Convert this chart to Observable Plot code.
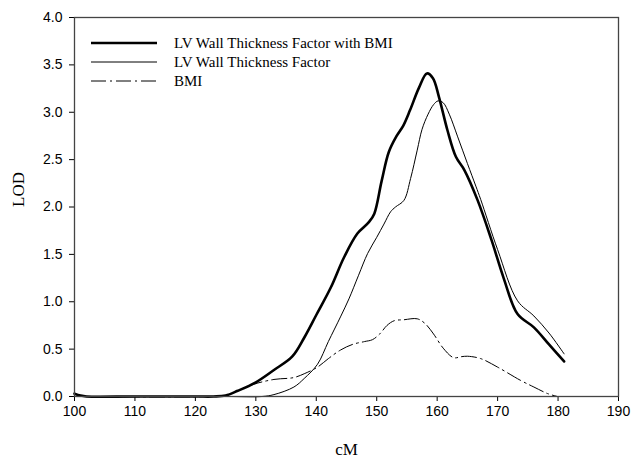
<!DOCTYPE html>
<html><head><meta charset="utf-8">
<script src="https://cdn.jsdelivr.net/npm/d3@7"></script>
<script src="https://cdn.jsdelivr.net/npm/@observablehq/plot@0.6"></script>
<style>
body{margin:0;background:#fff}
#wrap{position:relative;width:632px;height:459px}
#legend{position:absolute;left:0;top:0;pointer-events:none}
</style>
</head><body><div id="wrap"></div>
<script>
// Series: LV Wall Thickness Factor with BMI (thick)
const cM_withBMI = [100, 101, 102, 110, 120, 123, 125, 127, 130, 133, 136, 138, 140, 142.4, 144.6, 146.8, 148.7, 149.6, 150.8, 152, 153.3, 154.4, 155.5, 157, 158.3, 159.3, 160.3, 161.7, 163.1, 164.5, 166.7, 169, 171, 173.3, 176, 178.5, 181];
const lod_withBMI = [0.03, 0.01, 0, 0, 0, 0, 0.01, 0.06, 0.15, 0.28, 0.42, 0.62, 0.86, 1.15, 1.47, 1.72, 1.84, 1.93, 2.27, 2.58, 2.75, 2.86, 3.02, 3.26, 3.41, 3.36, 3.16, 2.81, 2.53, 2.39, 2.07, 1.65, 1.25, 0.87, 0.73, 0.55, 0.37];

// Series: LV Wall Thickness Factor (thin)
const cM_factor = [100, 125, 131, 133, 136.3, 138, 140.2, 142, 144, 145.4, 147, 148.5, 150, 151.2, 152.3, 153.1, 154.5, 155.6, 156.7, 157.5, 158.5, 159.4, 160.15, 161, 162, 163.4, 165, 166.4, 167.2, 170, 173.3, 176, 178.5, 181];
const lod_factor = [0, 0, 0, 0.02, 0.1, 0.19, 0.34, 0.58, 0.84, 1.03, 1.28, 1.51, 1.68, 1.82, 1.95, 2.0, 2.07, 2.3, 2.6, 2.82, 2.98, 3.08, 3.12, 3.1, 2.98, 2.74, 2.46, 2.22, 2.08, 1.55, 1.01, 0.85, 0.67, 0.45];

// Series: BMI (dash-dot)
const cM_bmi = [100, 123, 125, 127, 129.7, 133, 136.3, 138, 140.2, 142, 144, 146, 148, 149.3, 150.5, 151.7, 152.9, 154.5, 156.7, 158, 159.4, 161, 162.7, 164, 165, 167.2, 170, 173.8, 176, 178.3, 179.9];
const lod_bmi = [0, 0, 0.01, 0.06, 0.13, 0.18, 0.2, 0.24, 0.31, 0.4, 0.49, 0.55, 0.58, 0.6, 0.66, 0.75, 0.8, 0.81, 0.82, 0.77, 0.66, 0.51, 0.41, 0.42, 0.425, 0.40, 0.31, 0.17, 0.1, 0.03, 0];

const seriesNames = ["LV Wall Thickness Factor with BMI", "LV Wall Thickness Factor", "BMI"];
const xTicks = [100, 110, 120, 130, 140, 150, 160, 170, 180, 190];
const yTicks = [0, 0.5, 1, 1.5, 2, 2.5, 3, 3.5, 4];
const xTitle = "cM";
const yTitle = "LOD";

const styles = [
  {strokeWidth: 2.6, dash: null},
  {strokeWidth: 1, dash: null},
  {strokeWidth: 1, dash: "15,4,2,4"}
];

const rows = (xs, ys, s) => xs.map((x, i) => ({cM: x, lod: ys[i], series: s}));
const data = [
  rows(cM_withBMI, lod_withBMI, seriesNames[0]),
  rows(cM_factor, lod_factor, seriesNames[1]),
  rows(cM_bmi, lod_bmi, seriesNames[2])
];

const chart = Plot.plot({
  width: 632, height: 459,
  marginLeft: 74, marginRight: 14, marginTop: 17, marginBottom: 63,
  style: {fontFamily: "'Liberation Sans', Arial, sans-serif", fontSize: "14px", background: "#fff", color: "#000"},
  x: {domain: [100, 190]},
  y: {domain: [0, 4]},
  marks: [
    Plot.axisX({ticks: xTicks, tickSize: 5, tickPadding: 5, label: null, tickFormat: d => String(d), fontSize: 14}),
    Plot.axisY({ticks: yTicks, tickSize: 5, tickPadding: 7, label: null, tickFormat: d3.format(".1f"), fontSize: 14}),
    ...data.map((d, i) => Plot.line(d, {
      x: "cM", y: "lod", stroke: "#000", strokeWidth: styles[i].strokeWidth,
      strokeDasharray: styles[i].dash || undefined, curve: "catmull-rom"
    })),
    Plot.frame({stroke: "#444", strokeWidth: 1.3}),
    Plot.text([xTitle], {frameAnchor: "bottom", dy: 58, fontFamily: "'Liberation Serif', 'Times New Roman', serif", fontSize: 17, fill: "#000"}),
    Plot.text([yTitle], {frameAnchor: "left", dx: -56, rotate: -90, fontFamily: "'Liberation Serif', 'Times New Roman', serif", fontSize: 17, fill: "#000"})
  ]
});

const wrap = document.getElementById("wrap");
wrap.appendChild(chart);

// legend overlay (inside plot area, top-left)
const svgNS = "http://www.w3.org/2000/svg";
const leg = document.createElementNS(svgNS, "svg");
leg.setAttribute("id", "legend");
leg.setAttribute("width", 632);
leg.setAttribute("height", 110);
seriesNames.forEach((name, i) => {
  const y = 43 + i * 19;
  const ln = document.createElementNS(svgNS, "line");
  ln.setAttribute("x1", 91); ln.setAttribute("x2", 157);
  ln.setAttribute("y1", y); ln.setAttribute("y2", y);
  ln.setAttribute("stroke", "#000");
  ln.setAttribute("stroke-width", styles[i].strokeWidth);
  if (styles[i].dash) ln.setAttribute("stroke-dasharray", styles[i].dash);
  leg.appendChild(ln);
  const t = document.createElementNS(svgNS, "text");
  t.setAttribute("x", 174); t.setAttribute("y", y + 5);
  t.setAttribute("font-family", "'Liberation Serif', 'Times New Roman', serif");
  t.setAttribute("font-size", 15);
  t.textContent = name;
  leg.appendChild(t);
});
wrap.appendChild(leg);
</script>
</body></html>
